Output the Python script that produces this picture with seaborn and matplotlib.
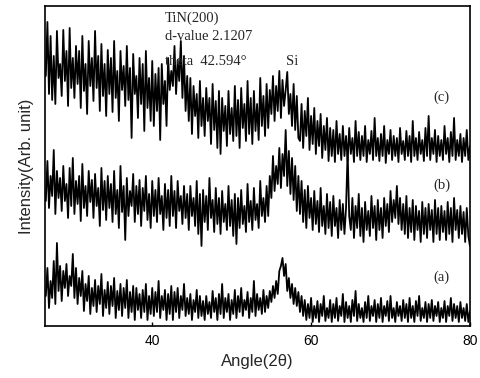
import numpy as np
import pandas as pd
import matplotlib
matplotlib.use("Agg")
import matplotlib.pyplot as plt
import seaborn as sns

# sampling grid of the scan (2theta, degrees)
angle_start, angle_stop, angle_step = 26.6, 80.0, 0.2

# intensities (arbitrary units, offset stacked), 10 points = 2 degrees per row
series_c = [250, 304, 232, 290, 226, 270, 222, 295, 248, 262,
            230, 296, 245, 275, 220, 298, 238, 268, 228, 280,
            242, 275, 218, 290, 235, 262, 212, 285, 240, 268,
            225, 295, 238, 270, 215, 282, 230, 262, 210, 276,
            232, 268, 214, 285, 228, 255, 205, 275, 236, 260,
            220, 280, 226, 258, 188, 272, 232, 250, 208, 268,
            222, 262, 195, 275, 218, 248, 205, 265, 200, 252,
            215, 258, 186, 262, 222, 245, 200, 268, 236, 255,
            240, 280, 232, 266, 245, 285, 228, 270, 215, 250,
            205, 248, 192, 240, 210, 232, 188, 245, 200, 228,
            190, 238, 205, 228, 182, 242, 196, 225, 178, 235,
            172, 228, 195, 220, 180, 235, 192, 218, 185, 240,
            190, 226, 178, 238, 198, 222, 185, 245, 192, 228,
            182, 235, 195, 222, 186, 248, 200, 230, 190, 242,
            198, 236, 212, 250, 205, 240, 215, 255, 208, 246,
            220, 236, 254, 212, 232, 200, 242, 196, 230, 188,
            185, 222, 178, 215, 190, 228, 176, 210, 182, 218,
            172, 205, 180, 212, 168, 200, 176, 208, 165, 198,
            170, 196, 164, 205, 172, 192, 166, 200, 170, 190,
            165, 198, 172, 188, 164, 205, 170, 194, 166, 190,
            170, 200, 164, 186, 172, 195, 166, 208, 170, 188,
            165, 192, 170, 200, 163, 186, 172, 196, 166, 190,
            170, 188, 164, 198, 172, 185, 166, 195, 170, 190,
            164, 205, 170, 188, 166, 194, 172, 186, 165, 198,
            170, 210, 166, 188, 172, 196, 164, 190, 170, 186,
            166, 200, 172, 188, 164, 194, 170, 208, 166, 186,
            170, 192, 164, 188, 170, 196, 166, 180]
series_b = [125, 165, 118, 150, 130, 176, 112, 155, 128, 148,
            115, 160, 125, 142, 108, 158, 120, 168, 112, 145,
            122, 150, 105, 162, 118, 140, 110, 155, 124, 146,
            108, 152, 120, 138, 100, 158, 116, 145, 106, 150,
            118, 142, 104, 155, 112, 136, 98, 160, 114, 140,
            86, 148, 110, 135, 120, 152, 104, 140, 112, 146,
            100, 138, 115, 150, 106, 132, 98, 145, 110, 136,
            104, 148, 112, 130, 96, 142, 108, 136, 100, 150,
            110, 135, 98, 145, 115, 130, 102, 140, 108, 132,
            96, 140, 110, 128, 100, 145, 92, 132, 80, 136,
            104, 130, 96, 148, 108, 126, 94, 138, 102, 128,
            92, 135, 104, 122, 96, 140, 100, 126, 90, 132,
            82, 128, 98, 136, 102, 120, 94, 142, 104, 125,
            96, 138, 106, 122, 98, 145, 110, 128, 104, 140,
            110, 150, 128, 170, 135, 160, 142, 178, 138, 172,
            150, 196, 140, 175, 132, 168, 126, 160, 115, 150,
            112, 145, 104, 136, 98, 140, 108, 128, 96, 135,
            102, 125, 94, 138, 100, 120, 92, 132, 98, 124,
            90, 130, 100, 118, 88, 126, 96, 122, 92, 118,
            174, 110, 96, 128, 88, 120, 98, 132, 90, 118,
            84, 124, 96, 115, 90, 130, 98, 120, 86, 126,
            96, 118, 88, 128, 100, 122, 94, 135, 104, 126,
            108, 140, 102, 128, 96, 122, 92, 130, 88, 118,
            94, 126, 86, 120, 96, 115, 84, 124, 92, 118,
            88, 122, 96, 116, 84, 126, 92, 118, 86, 120,
            94, 115, 86, 124, 92, 118, 84, 128, 96, 116,
            88, 120, 92, 114, 84, 118, 90, 80]
series_a = [30, 58, 18, 45, 28, 65, 22, 83, 35, 60,
            25, 55, 38, 62, 30, 50, 40, 72, 28, 58,
            22, 48, 30, 55, 15, 42, 25, 50, 12, 38,
            20, 46, 14, 40, 22, 52, 10, 36, 18, 44,
            12, 40, 20, 48, 8, 35, 16, 42, 10, 38,
            18, 46, 8, 34, 14, 40, 6, 38, 16, 32,
            8, 36, 14, 42, 6, 30, 12, 38, 10, 34,
            14, 45, 8, 30, 16, 36, 6, 32, 12, 40,
            6, 34, 14, 38, 8, 30, 16, 42, 10, 28,
            12, 32, 6, 26, 14, 36, 8, 30, 10, 25,
            6, 30, 12, 24, 8, 35, 14, 28, 6, 32,
            12, 42, 8, 28, 14, 32, 6, 26, 12, 36,
            8, 30, 14, 38, 10, 26, 16, 34, 8, 28,
            14, 45, 10, 32, 16, 28, 12, 36, 14, 30,
            18, 35, 24, 40, 28, 45, 32, 55, 60, 68,
            50, 62, 35, 48, 28, 42, 22, 38, 20, 34,
            14, 30, 10, 26, 6, 22, 8, 28, 4, 20,
            8, 25, 4, 22, 10, 30, 5, 18, 8, 26,
            4, 22, 8, 28, 5, 20, 10, 32, 4, 24,
            8, 20, 4, 26, 10, 35, 5, 22, 8, 18,
            4, 24, 8, 30, 5, 20, 10, 26, 4, 22,
            8, 28, 4, 20, 10, 25, 5, 30, 8, 18,
            4, 24, 10, 20, 5, 26, 8, 22, 4, 28,
            8, 20, 4, 25, 10, 30, 5, 18, 8, 24,
            4, 22, 8, 26, 5, 20, 10, 24, 4, 18,
            8, 25, 4, 20, 10, 28, 5, 22, 8, 20,
            4, 24, 8, 18, 5, 22, 4, 15]
series_labels = ["(a)", "(b)", "(c)"]

angles = np.round(np.arange(angle_start, angle_stop + angle_step / 2, angle_step), 2)

frames = []
for lab, vals in zip(series_labels, [series_a, series_b, series_c]):
    frames.append(pd.DataFrame({"angle": angles, "intensity": vals, "sample": lab}))
df = pd.concat(frames, ignore_index=True)

sns.set_theme(style="ticks")
plt.rcParams["font.family"] = ["Liberation Sans", "DejaVu Sans"]

fig = plt.figure(figsize=(4.81, 3.78), dpi=100)
ax = fig.add_axes([0.0936, 0.1376, 0.8834, 0.8466])

sns.lineplot(data=df, x="angle", y="intensity", hue="sample",
             palette=["black", "black", "black"], estimator=None,
             linewidth=1.3, legend=False, ax=ax)

ax.set_xlim(26.5, 80)
ax.set_ylim(0, 320)
ax.set_xticks([40, 60, 80])
ax.set_xticklabels(["40", "60", "80"], fontsize=10)
ax.set_yticks([])
ax.tick_params(axis="x", direction="in", length=3, width=1, pad=6, colors="black")
ax.set_xlabel("Angle(2θ)", fontsize=12, labelpad=4)
ax.set_ylabel("Intensity(Arb. unit)", fontsize=12, labelpad=8)
for sp in ax.spines.values():
    sp.set_color("black")
    sp.set_linewidth(1.2)

serif = ["Liberation Serif", "DejaVu Serif"]
ax.text(41.6, 314, "TiN(200)", family=serif, fontsize=10.5, va="top")
ax.text(41.6, 296, "d-value 2.1207", family=serif, fontsize=10.5, va="top")
ax.text(41.6, 271, "theta  42.594°", family=serif, fontsize=10.5, va="top")
ax.text(56.9, 271, "Si", family=serif, fontsize=10.5, va="top")
ax.text(75.4, 229, "(c)", family=serif, fontsize=10.5, va="center")
ax.text(75.4, 141, "(b)", family=serif, fontsize=10.5, va="center")
ax.text(75.4, 49, "(a)", family=serif, fontsize=10.5, va="center")

fig.savefig("out.png", dpi=100)
